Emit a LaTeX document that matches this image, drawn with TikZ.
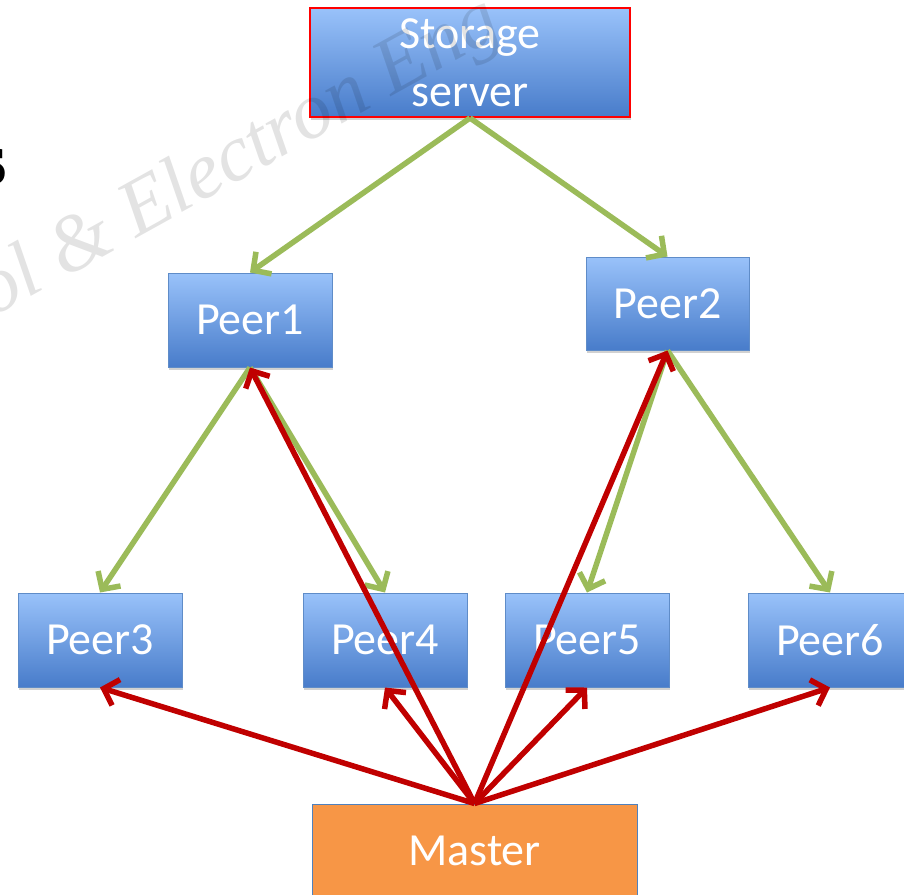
\documentclass[tikz,border=0pt]{standalone}
\usepackage{fontspec}
\setmainfont{Carlito}
\newfontfamily\wmfont{Liberation Serif}
\usetikzlibrary{arrows.meta,shadows}
\definecolor{boxtop}{RGB}{153,194,250}
\definecolor{boxbot}{RGB}{72,124,202}
\definecolor{boxline}{RGB}{95,140,200}
\definecolor{greenarr}{RGB}{155,187,89}
\definecolor{redarr}{RGB}{192,0,0}
\definecolor{masterfill}{RGB}{247,150,70}
\definecolor{masterline}{RGB}{79,129,189}
\definecolor{srvline}{RGB}{255,0,0}
\tikzset{
  peerbox/.style={rectangle, top color=boxtop, bottom color=boxbot, draw=boxline, line width=1pt,
    minimum width=164pt, minimum height=94pt, inner sep=0pt, text=white,
    font=\fontsize{46}{58}\selectfont,
    drop shadow={shadow xshift=1pt, shadow yshift=-3pt, opacity=0.18, fill=black}},
  serverbox/.style={peerbox, draw=srvline, line width=2pt, minimum width=320pt, minimum height=109pt, align=center},
  masterbox/.style={rectangle, fill=masterfill, draw=masterline, line width=1pt,
    minimum width=325pt, minimum height=94pt, inner sep=0pt, text=white,
    font=\fontsize{46}{58}\selectfont},
  greenlink/.style={draw=greenarr, line width=5.5pt, -{Straight Barb[length=13pt,width=27pt]}},
  redlink/.style={draw=redarr, line width=5.5pt, -{Straight Barb[length=13pt,width=27pt]}},
  watermark/.style={text=black, text opacity=0.11, font=\wmfont\itshape\fontsize{80}{80}\selectfont,
    anchor=base west, rotate=29, inner sep=0pt},
}
\begin{document}
\begin{tikzpicture}[x=1pt,y=-1pt]
\useasboundingbox (0,0) rectangle (904,894);
\clip (0,0) rectangle (904,894);
\fill[white] (0,0) rectangle (904,894);

\node[anchor=base east, inner sep=0pt, font=\wmfont\bfseries\fontsize{76}{76}\selectfont] (slidetext) at (7,184) {s};

\node[serverbox] (st) at (470,62.5) {Storage\\server};
\node[peerbox] (p1) at (250,320) {Peer1};
\node[peerbox, minimum width=163pt, minimum height=93pt] (p2) at (667.5,303.5) {Peer2};
\node[peerbox] (p3) at (100,640) {Peer3};
\node[peerbox] (p4) at (385,640) {Peer4};
\node[peerbox] (p5) at (587,640) {Peer5};
\node[peerbox] (p6) at (830,640) {Peer6};
\node[masterbox] (m) at (474.5,851) {Master};

\draw[greenlink] (st.south) -- (p1.north);
\draw[greenlink] (st.south) -- (p2.north);
\draw[greenlink] (p1.south) -- (p3.north);
\draw[greenlink] (p1.south) -- (p4.north);
\draw[greenlink] (p2.south) -- (p5.north);
\draw[greenlink] (p2.south) -- (p6.north);

\draw[redlink] (m.north) -- (p3.south);
\draw[redlink] (m.north) -- (p4.south);
\draw[redlink] (m.north) -- (p1.south);
\draw[redlink] (m.north) -- (p2.south);
\draw[redlink] (m.north) -- (p5.south);
\draw[redlink] (m.north) -- (p6.south);

\node[watermark] (wm) at (-8,318) {ol \& Electron Eng};
\end{tikzpicture}
\end{document}
